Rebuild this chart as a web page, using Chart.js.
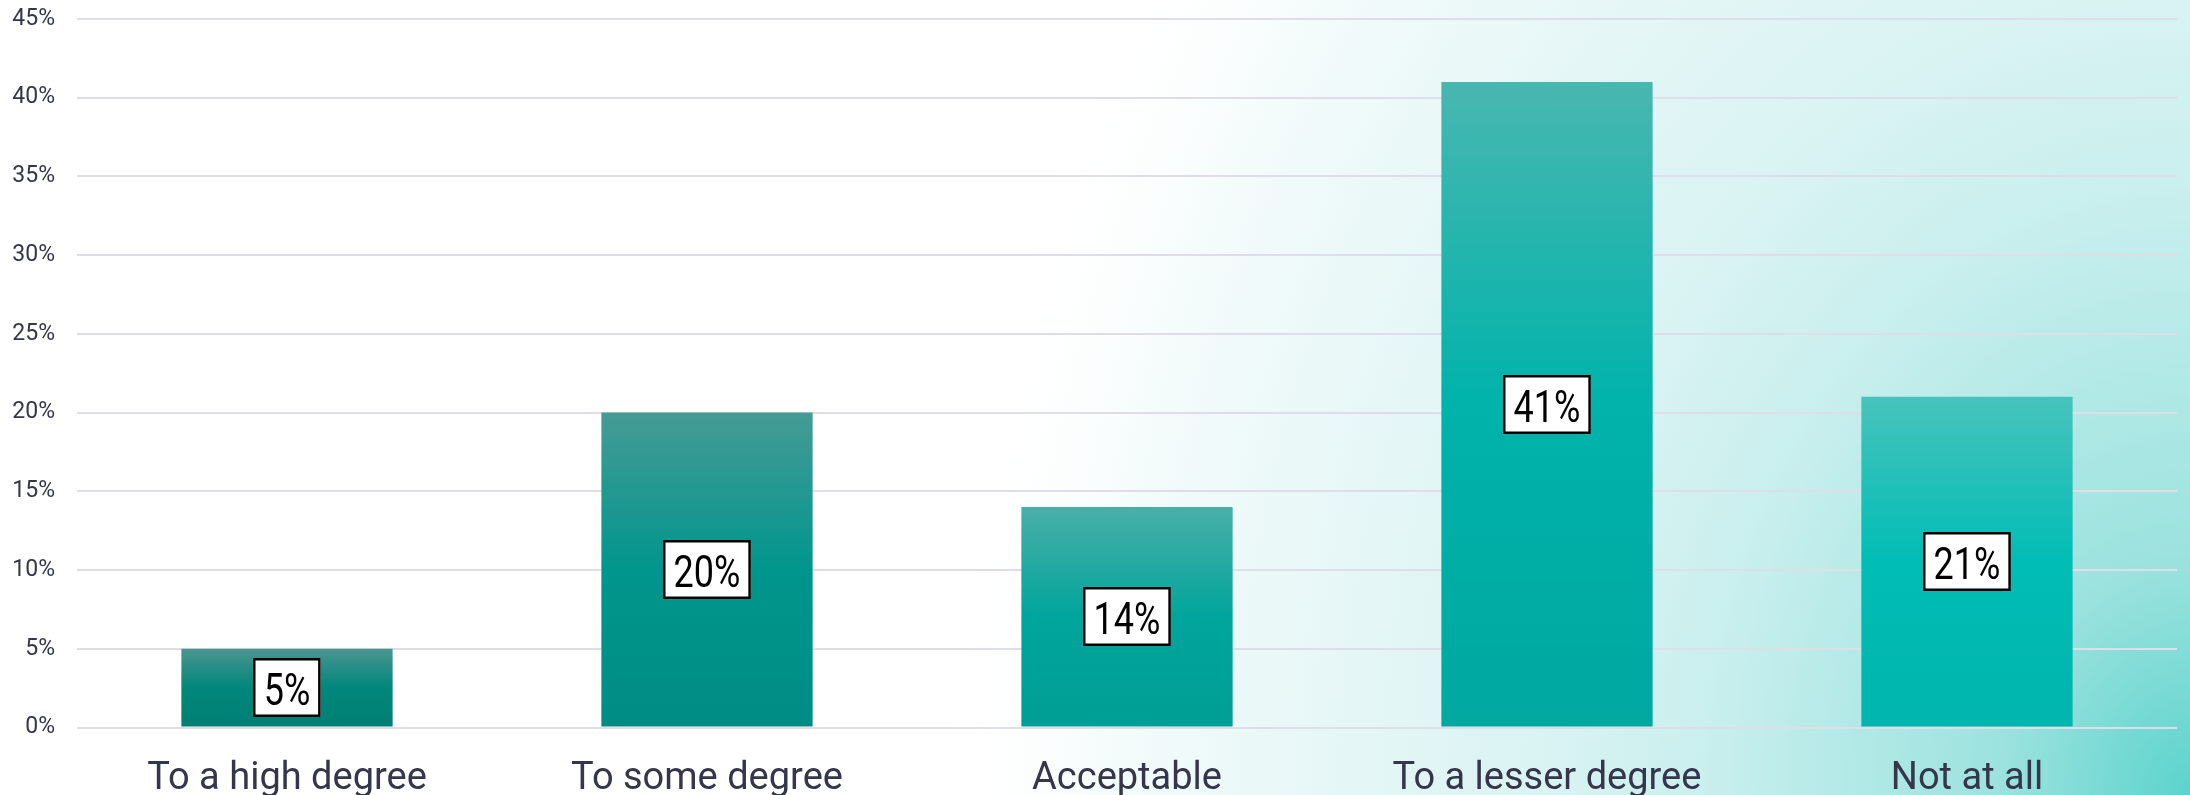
<!DOCTYPE html>
<html>
<head>
<meta charset="utf-8">
<script src="https://cdn.jsdelivr.net/npm/chart.js@4.4.1/dist/chart.umd.min.js"></script>
<style>
  html, body { margin: 0; padding: 0; overflow: hidden; background: #ffffff; }
  #wrap { position: relative; width: 2190px; height: 795px; }
</style>
</head>
<body>
<div id="wrap"><canvas id="chart"></canvas></div>
<script>
// Survey answers and their shares (percent of respondents)
const categories = ['To a high degree', 'To some degree', 'Acceptable', 'To a lesser degree', 'Not at all'];
const shares = [5, 20, 14, 41, 21];

// Value axis
const axisMin = 0;
const axisMax = 45;
const axisStep = 5;

// Per-bar vertical gradient: muted top, saturated middle, deeper base
const barTop    = ['#4a958f', '#459b95', '#4aaea8', '#48b7b0', '#47c3bc'];
const barMid    = ['#00877b', '#00968d', '#00a59b', '#00b3ab', '#00bdb5'];
const barBottom = ['#007f73', '#008c84', '#009e95', '#00a8a0', '#00b5ad'];

// Soft teal glow rising from the lower-right corner (slightly taller than wide)
const backdrop = {
  id: 'backdrop',
  beforeDraw(chart) {
    const { ctx, width, height } = chart;
    ctx.save();
    ctx.fillStyle = '#ffffff';
    ctx.fillRect(0, 0, width, height);
    const stretch = 1.25;
    const r = 1250;
    ctx.translate(width, height);
    ctx.scale(1, stretch);
    const g = ctx.createRadialGradient(0, 0, 0, 0, 0, r);
    g.addColorStop(0.00, '#5cd3cc');
    g.addColorStop(0.15, '#9be2de');
    g.addColorStop(0.25, '#aee8e5');
    g.addColorStop(0.39, '#c9efee');
    g.addColorStop(0.52, '#daf3f3');
    g.addColorStop(0.70, '#e7f7f7');
    g.addColorStop(0.86, '#f4fbfb');
    g.addColorStop(1.00, 'rgba(255,255,255,0)');
    ctx.fillStyle = g;
    ctx.fillRect(-width, -height / stretch, width, height / stretch);
    ctx.restore();
  }
};

// Boxed value labels centred on each bar
const valueBoxes = {
  id: 'valueBoxes',
  afterDatasetsDraw(chart) {
    const { ctx } = chart;
    const meta = chart.getDatasetMeta(0);
    const sx = 0.8;
    ctx.save();
    ctx.font = '45px Roboto';
    meta.data.forEach((bar, i) => {
      const text = chart.data.datasets[0].data[i] + '%';
      const tw = ctx.measureText(text).width * sx;
      const w = tw + 21;
      const h = 59;
      const cx = bar.x;
      const cy = (bar.y + bar.base) / 2;
      const x0 = Math.round(cx - w / 2);
      const y0 = Math.round(cy - h / 2);
      ctx.fillStyle = '#ffffff';
      ctx.fillRect(x0, y0, w, h);
      ctx.lineWidth = 2.5;
      ctx.strokeStyle = '#000000';
      ctx.strokeRect(x0 + 1.25, y0 + 1.25, w - 2.5, h - 2.5);
      ctx.save();
      ctx.translate(cx, y0 + h / 2 + 17);
      ctx.scale(sx, 1);
      ctx.fillStyle = '#000000';
      ctx.textAlign = 'center';
      ctx.textBaseline = 'alphabetic';
      ctx.fillText(text, 0, 0);
      ctx.restore();
    });
    ctx.restore();
  }
};

new Chart(document.getElementById('chart'), {
  type: 'bar',
  data: {
    labels: categories,
    datasets: [{
      data: shares,
      borderWidth: 0,
      barPercentage: 0.503,
      categoryPercentage: 1.0,
      backgroundColor(c) {
        const i = c.dataIndex;
        const chart = c.chart;
        if (!chart.chartArea || c.type !== 'data') return barMid[i];
        const y = chart.scales.y;
        const top = y.getPixelForValue(c.parsed.y);
        const base = y.getPixelForValue(0);
        const g = chart.ctx.createLinearGradient(0, top, 0, base);
        g.addColorStop(0, barTop[i]);
        g.addColorStop(0.5, barMid[i]);
        g.addColorStop(1, barBottom[i]);
        return g;
      }
    }]
  },
  options: {
    responsive: true,
    maintainAspectRatio: false,
    animation: false,
    events: [],
    layout: { padding: { top: 0, right: 13, bottom: 0, left: 0 } },
    plugins: {
      legend: { display: false },
      tooltip: { enabled: false },
      title: { display: false }
    },
    scales: {
      x: {
        grid: { display: false },
        border: { display: false },
        ticks: {
          color: '#35364a',
          font: { family: 'Roboto', size: 38 },
          padding: 21,
          maxRotation: 0,
          autoSkip: false
        },
        afterFit(scale) { scale.height = 67.5; }
      },
      y: {
        min: axisMin,
        max: axisMax,
        grid: { color: '#dfdee8', lineWidth: 2, drawTicks: false },
        border: { display: false },
        ticks: {
          stepSize: axisStep,
          color: '#35364a',
          font: { family: 'Roboto', size: 23 },
          padding: 22,
          callback: v => v + '%'
        },
        afterFit(scale) {
          scale.width = 77;
          scale.paddingTop = 19;
          scale.paddingBottom = 0;
        }
      }
    }
  },
  plugins: [backdrop, valueBoxes]
});
</script>
</body>
</html>
